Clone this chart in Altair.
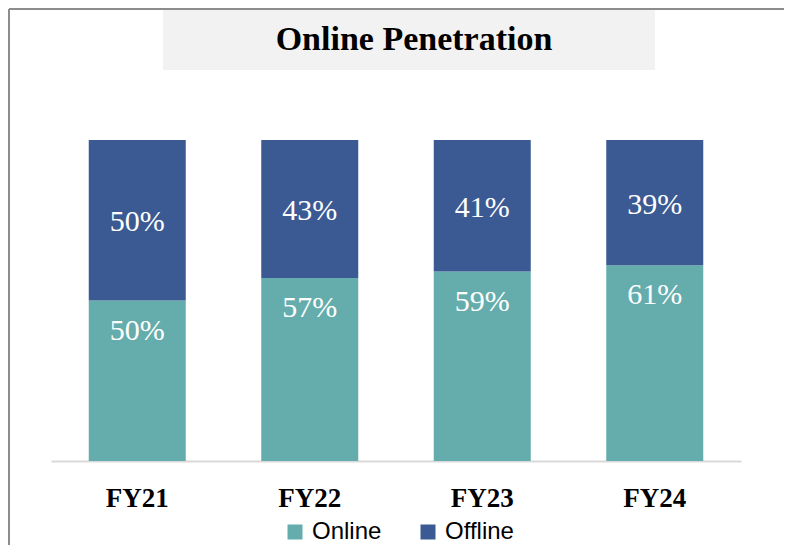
import altair as alt
import pandas as pd

years = ["FY21", "FY22", "FY23", "FY24"]
online = [0.50, 0.57, 0.59, 0.61]
offline = [0.50, 0.43, 0.41, 0.39]
series = ["Online", "Offline"]
colors = ["#65ADAC", "#3B5A93"]
title_text = "Online Penetration"

rows = []
for i, y in enumerate(years):
    rows.append({"year": y, "type": "Online", "value": online[i], "order": 0,
                 "label": f"{round(online[i]*100)}%", "ly": online[i]})
    rows.append({"year": y, "type": "Offline", "value": offline[i], "order": 1,
                 "label": f"{round(offline[i]*100)}%", "ly": online[i] + offline[i] / 2})
df = pd.DataFrame(rows)
tdf = pd.DataFrame({"title": [title_text]})

W, H = 690, 321

xenc = alt.X("year:N", sort=years, title=None,
             scale=alt.Scale(paddingInner=0.436, paddingOuter=0.218),
             axis=alt.Axis(labelFont="Liberation Serif", labelFontWeight="bold",
                           labelFontSize=27, labelColor="#000000", labelAngle=0,
                           ticks=False, domainColor="#d9d9d9", domainWidth=2,
                           labelPadding=45, labelBaseline="alphabetic"))

bars = alt.Chart(df).mark_bar(size=97).encode(
    x=xenc,
    y=alt.Y("value:Q", stack="zero", scale=alt.Scale(domain=[0, 1]), axis=None),
    color=alt.Color("type:N", sort=series,
                    scale=alt.Scale(domain=series, range=colors),
                    legend=alt.Legend(title=None, orient="none", direction="horizontal",
                                      legendX=232, legendY=59 + H,
                                      symbolType="square", symbolSize=225,
                                      symbolStrokeWidth=0, symbolOpacity=1,
                                      labelFont="Liberation Sans", labelFontSize=24,
                                      labelColor="#000000", columnPadding=34,
                                      labelOffset=5)),
    order=alt.Order("order:Q"),
)

labels_on = alt.Chart(df[df["type"] == "Online"]).mark_text(
    font="Liberation Serif", fontSize=30, color="white", baseline="middle", dy=30
).encode(x=alt.X("year:N", sort=years), y=alt.Y("ly:Q"), text="label:N")

labels_off = alt.Chart(df[df["type"] == "Offline"]).mark_text(
    font="Liberation Serif", fontSize=30, color="white", baseline="middle", dy=2
).encode(x=alt.X("year:N", sort=years), y=alt.Y("ly:Q"), text="label:N")

title_box = alt.Chart(tdf).mark_rect(color="#f2f2f2").encode(
    x=alt.value(112), x2=alt.value(604), y=alt.value(-134), y2=alt.value(-70)
)
title_mark = alt.Chart(tdf).mark_text(
    font="Liberation Serif", fontWeight="bold", fontSize=34, color="#000000",
    baseline="alphabetic", align="center"
).encode(x=alt.value(363), y=alt.value(-90), text="title:N")

border_top = alt.Chart(tdf).mark_rule(color="#8c8c8c", strokeWidth=2).encode(
    x=alt.value(-42), x2=alt.value(740), y=alt.value(-131)
)
border_left = alt.Chart(tdf).mark_rule(color="#8c8c8c", strokeWidth=2).encode(
    x=alt.value(-42), y=alt.value(-131), y2=alt.value(H + 85)
)

chart = alt.layer(title_box, title_mark, border_top, border_left, bars,
                  labels_on, labels_off).properties(
    width=W, height=H,
    padding={"left": 43, "top": 132, "right": 43, "bottom": 84},
    autosize=alt.AutoSizeParams(type="none"),
).configure_view(stroke=None).configure_axisY(grid=False)

chart.save("out.html", embed_options={"renderer": "svg", "actions": False})
